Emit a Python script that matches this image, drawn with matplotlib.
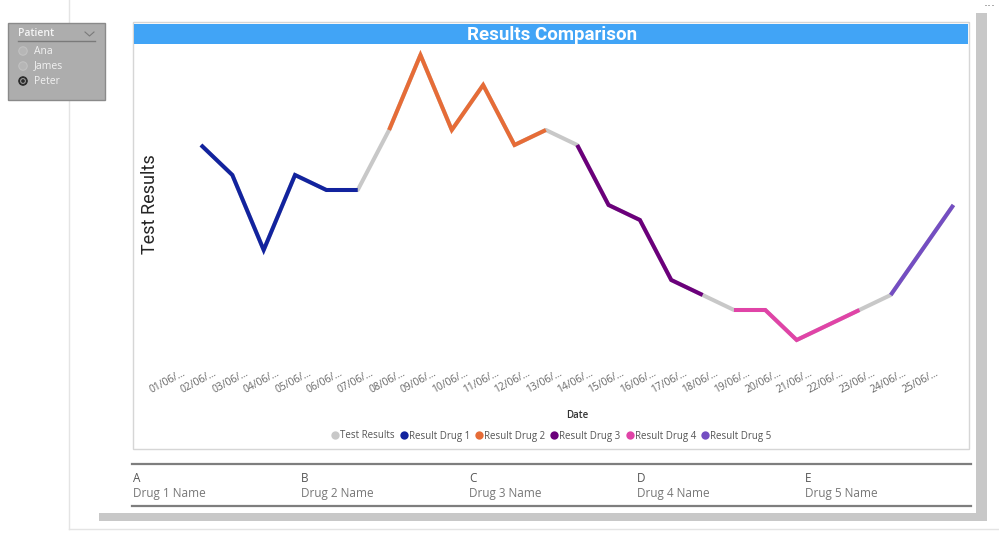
import matplotlib
matplotlib.use("Agg")
import matplotlib.pyplot as plt
import numpy as np
from matplotlib.patches import Rectangle, Circle
from matplotlib.lines import Line2D
from matplotlib.transforms import ScaledTranslation

W, H = 999, 536

# data
dates = ["%02d/06/\u2026" % d for d in range(1, 26)]
test_results = [17, 15, 10, 15, 14, 14, 18, 23, 18, 21, 17, 18, 17,
                13, 12, 8, 7, 6, 6, 4, 5, 6, 7, 10, 13]
drug_names = ["Result Drug 1", "Result Drug 2", "Result Drug 3",
              "Result Drug 4", "Result Drug 5"]
drug_first = [0, 6, 12, 17, 22]   # first day index on each drug
drug_last = [5, 11, 16, 21, 24]   # last day index on each drug
drug_colors = ["#12239E", "#E66C37", "#6B007B", "#E044A7", "#744EC2"]
grey = "#C8C8C8"

patients = ["Ana", "James", "Peter"]
selected = "Peter"
table_codes = ["A", "B", "C", "D", "E"]
table_names = ["Drug 1 Name", "Drug 2 Name", "Drug 3 Name", "Drug 4 Name", "Drug 5 Name"]

fig = plt.figure(figsize=(W / 100, H / 100), dpi=100)
fig.patch.set_facecolor("white")

# background layer in pixel coords
bg = fig.add_axes([0, 0, 1, 1], zorder=-1)
bg.set_xlim(0, W)
bg.set_ylim(H, 0)
bg.axis("off")

# page frame lines
bg.plot([69, 69], [0, 529], color="#E4E4E4", lw=1, zorder=0.5)
bg.plot([69, W], [529, 529], color="#E4E4E4", lw=1, zorder=0.5)

# card shadow + card
bg.add_patch(Rectangle((99, 13), 888, 508, facecolor="#C8C8C8", edgecolor="none", zorder=0.6))
bg.add_patch(Rectangle((95, -5), 881, 518, facecolor="white", edgecolor="none", zorder=0.7))
bg.text(990, 7, "\u00b7\u00b7\u00b7", ha="center", va="center", fontsize=9, color="#777777")

# chart frame + title bar
bg.add_patch(Rectangle((133, 22), 836, 427, facecolor="white", edgecolor="#D6D6D6", lw=1))
bg.add_patch(Rectangle((134, 24), 834, 20, facecolor="#41A4F6", edgecolor="none"))
bg.text(552, 34.5, "Results Comparison", ha="center", va="center", color="white",
        fontsize=13.5, fontweight="bold", family="Roboto")
bg.text(150, 204, "Test Results", rotation=90, ha="center", va="center",
        fontsize=13, family="Roboto", color="#252525")
bg.text(577, 416, "Date", ha="center", va="center", fontsize=7,
        fontweight="semibold", family="Open Sans", color="#333333")

# slicer
bg.add_patch(Rectangle((8, 23), 97, 77, facecolor="#ADADAD", edgecolor="#8A8A8A", lw=1, zorder=3))
bg.text(18, 34, "Patient", ha="left", va="center", fontsize=7.5, family="Open Sans",
        fontweight="semibold", color="#F4F4F4", zorder=4)
bg.plot([18, 95], [41, 41], color="#7A7A7A", lw=1, zorder=4)
bg.plot([85, 89.5, 94], [32, 36, 32], color="#7A7A7A", lw=0.8, zorder=4)
for k, name in enumerate(patients):
    yy = 51 + k * 15
    if name == selected:
        bg.add_patch(Circle((23, yy), 4.2, facecolor="#2A2A2A", edgecolor="#2A2A2A", lw=0.8, zorder=4))
        bg.add_patch(Circle((23, yy), 2.4, facecolor="#2A2A2A", edgecolor="#9A9A9A", lw=0.8, zorder=4))
    else:
        bg.add_patch(Circle((23, yy), 4.2, facecolor="#B6B6B6", edgecolor="#C2C2C2", lw=0.8, zorder=4))
    bg.text(34, yy, name, ha="left", va="center", fontsize=7.5, family="Open Sans",
            color="#F2F2F2", zorder=4)

# table under the chart
bg.plot([132, 971], [464, 464], color="#7E7E7E", lw=1.6)
bg.plot([132, 971], [506, 506], color="#7E7E7E", lw=1.6)
for k in range(5):
    xx = 133 + k * 168
    bg.text(xx, 478, table_codes[k], ha="left", va="center", fontsize=8.5,
            family="Open Sans", color="#555555")
    bg.text(xx, 494, table_names[k], ha="left", va="center", fontsize=8.5,
            family="Open Sans", color="#777777")

# main line chart
x0, x1, ytop, ybot = 185.3, 969.1, 50, 360
ax = fig.add_axes([x0 / W, 1 - ybot / H, (x1 - x0) / W, (ybot - ytop) / H], zorder=1)
ax.patch.set_alpha(0)
xs = np.arange(len(dates))
vals = np.array(test_results, dtype=float)
ax.plot(xs, vals, color=grey, lw=2.9, solid_capstyle="butt", zorder=2)
for name, a, b, c in zip(drug_names, drug_first, drug_last, drug_colors):
    ax.plot(xs[a:b + 1], vals[a:b + 1], color=c, lw=2.9, solid_capstyle="butt",
            solid_joinstyle="miter", zorder=3)
ax.set_xlim(-0.5, 24.5)
ax.set_ylim((400 - ybot) / 15, (400 - ytop) / 15)
for s in ax.spines.values():
    s.set_visible(False)
ax.set_yticks([])
ax.set_xticks(xs)
ax.set_xticklabels(dates, rotation=28, ha="right", va="center", rotation_mode="anchor",
                   fontsize=7.4, family="Open Sans", color="#666666")
ax.tick_params(axis="x", length=0, pad=0)
shift = ScaledTranslation(-16 / 100, -12 / 100, fig.dpi_scale_trans)
for lbl in ax.get_xticklabels():
    lbl.set_transform(lbl.get_transform() + shift)

handles = [Line2D([], [], ls="none", marker="o", ms=6, color=grey, mec="none")]
handles += [Line2D([], [], ls="none", marker="o", ms=6, color=c, mec="none") for c in drug_colors]
labels = ["Test Results"] + drug_names
leg = ax.legend(handles, labels, loc="center", bbox_to_anchor=(552 / W, 1 - 436 / H),
                bbox_transform=fig.transFigure, ncol=6, frameon=False,
                prop={"family": "Open Sans", "size": 7}, handlelength=0.45,
                handletextpad=0.3, columnspacing=0.7, borderaxespad=0)
for t in leg.get_texts():
    t.set_color("#555555")

fig.savefig("out.png", dpi=100)
